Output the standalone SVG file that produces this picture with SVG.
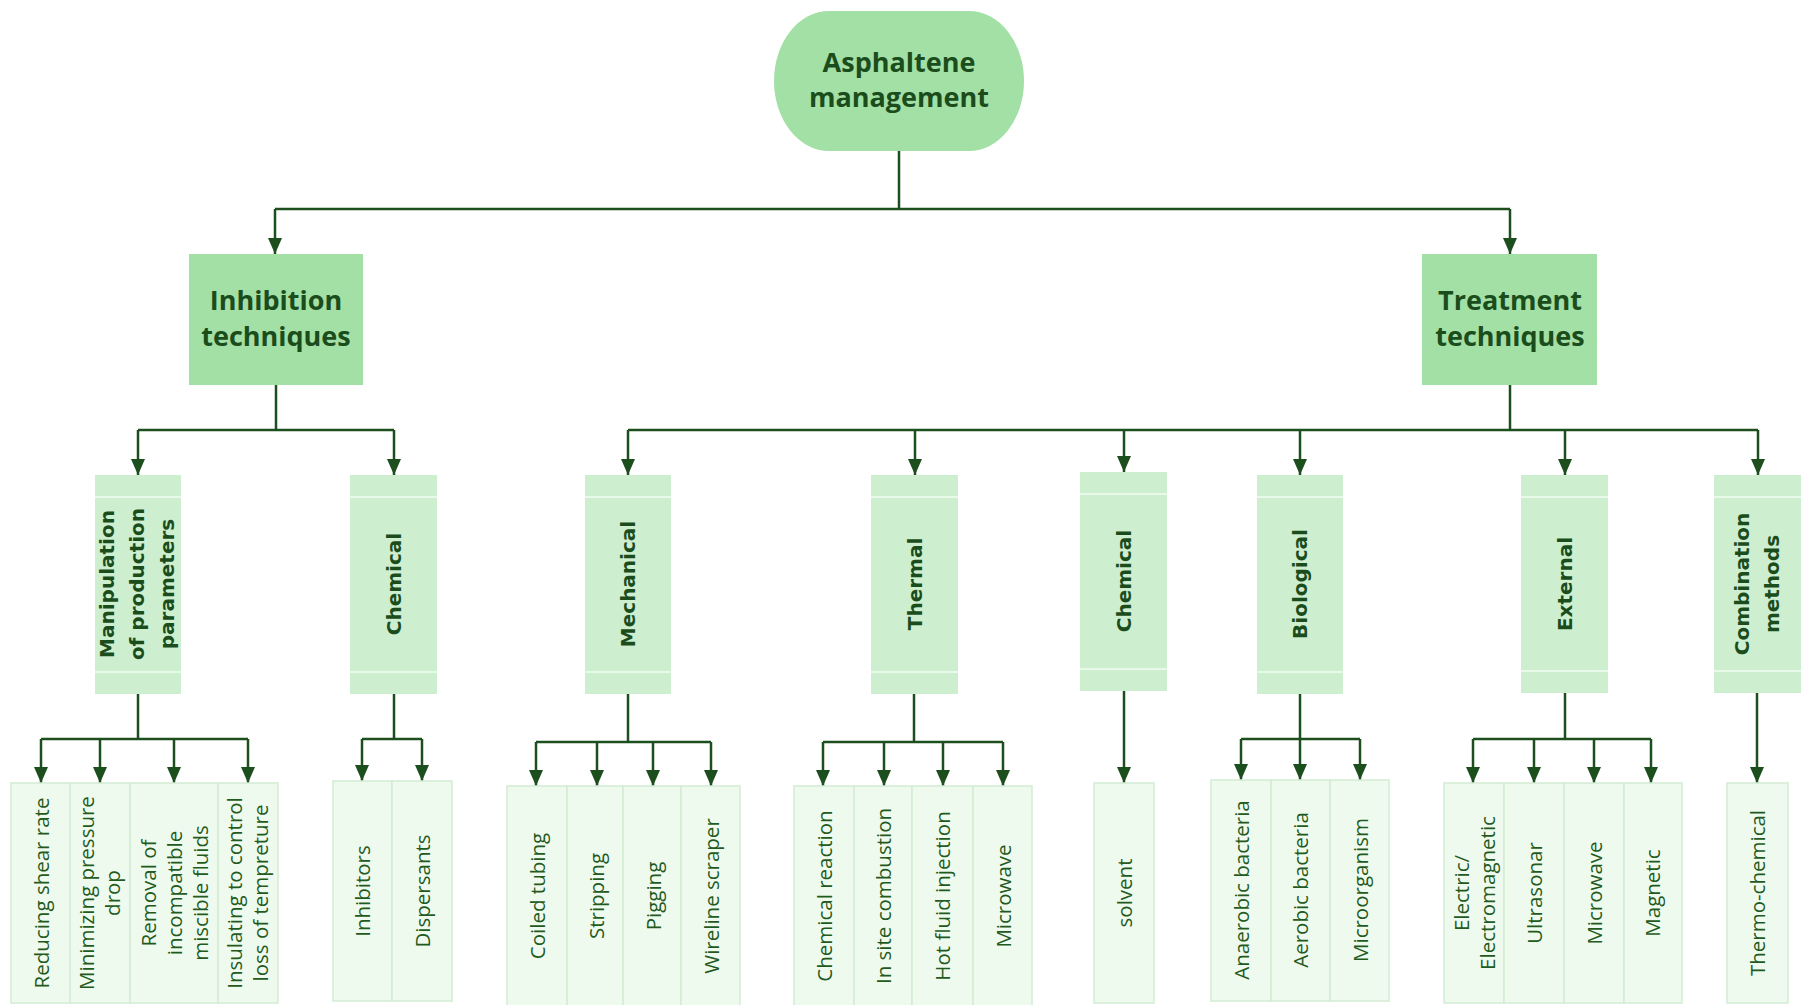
<svg xmlns="http://www.w3.org/2000/svg" width="1803" height="1005" viewBox="0 0 1803 1005">
<defs>
<marker id="ah" markerWidth="16" markerHeight="14" refX="16" refY="7" orient="auto" markerUnits="userSpaceOnUse" viewBox="0 0 16 14">
<path d="M0,0 L16,7 L0,14 Z" fill="#1d4f1e"/>
</marker>
<style>
.root{fill:#a3e0a5}
.l1{fill:#a3e0a5}
.l2{fill:#cdefd0}
.band{stroke:#e8f8e9;stroke-width:2}
.leaf{fill:#effaef;stroke:#d3ecd4;stroke-width:1.5}
.t0{font-family:"Open Sans","Noto Sans",sans-serif;font-weight:700;font-size:27px;fill:#1b4d1c;text-anchor:middle}
.t2{font-family:"DejaVu Sans",sans-serif;font-weight:700;font-size:20px;fill:#1b4d1c;text-anchor:middle;dominant-baseline:central}
.t3{font-family:"Open Sans","Noto Sans",sans-serif;font-size:20.5px;fill:#1f5a20;text-anchor:middle;dominant-baseline:central}
.c{fill:none;stroke:#1d4f1e;stroke-width:2.5}
.a{fill:none;stroke:#1d4f1e;stroke-width:2.5;marker-end:url(#ah)}
</style>
</defs>
<rect width="1803" height="1005" fill="#ffffff"/>

<g id="connectors">
<path class="c" d="M899,151 V209 M275,209 H1510"/>
<path class="a" d="M275,209 V254"/>
<path class="a" d="M1510,209 V254"/>
<path class="c" d="M276,385 V430 M138,430 H394"/>
<path class="a" d="M138,430 V475"/>
<path class="a" d="M394,430 V475"/>
<path class="c" d="M1510,385 V430 M628,430 H1758"/>
<path class="a" d="M628,430 V475"/>
<path class="a" d="M915,430 V475"/>
<path class="a" d="M1124,430 V472"/>
<path class="a" d="M1300,430 V475"/>
<path class="a" d="M1565,430 V475"/>
<path class="a" d="M1758,430 V475"/>
<path class="c" d="M138,694 V739 M41,739 H248"/>
<path class="a" d="M41,739 V783"/>
<path class="a" d="M100,739 V783"/>
<path class="a" d="M174,739 V783"/>
<path class="a" d="M248,739 V783"/>
<path class="c" d="M394,694 V739 M362,739 H422"/>
<path class="a" d="M362,739 V781"/>
<path class="a" d="M422,739 V781"/>
<path class="c" d="M628,694 V742 M536,742 H711"/>
<path class="a" d="M536,742 V786"/>
<path class="a" d="M597,742 V786"/>
<path class="a" d="M653,742 V786"/>
<path class="a" d="M711,742 V786"/>
<path class="c" d="M914,694 V742 M823,742 H1003"/>
<path class="a" d="M823,742 V786"/>
<path class="a" d="M884,742 V786"/>
<path class="a" d="M943,742 V786"/>
<path class="a" d="M1003,742 V786"/>
<path class="a" d="M1124,691 V783"/>
<path class="c" d="M1300,694 V739 M1241,739 H1360"/>
<path class="a" d="M1241,739 V780"/>
<path class="a" d="M1300,739 V780"/>
<path class="a" d="M1360,739 V780"/>
<path class="c" d="M1565,693 V739 M1473,739 H1651"/>
<path class="a" d="M1473,739 V783"/>
<path class="a" d="M1534,739 V783"/>
<path class="a" d="M1594,739 V783"/>
<path class="a" d="M1651,739 V783"/>
<path class="a" d="M1757,693 V783"/>
</g>

<g id="root">
<rect class="root" x="774" y="11" width="250" height="140" rx="55" ry="70"/>
<text class="t0" x="899" y="72">Asphaltene</text>
<text class="t0" x="899" y="107">management</text>
</g>

<g id="inhibition">
<rect class="l1" x="189" y="254" width="174" height="131"/>
<text class="t0" x="276" y="310">Inhibition</text>
<text class="t0" x="276" y="346">techniques</text>
</g>

<g id="treatment">
<rect class="l1" x="1422" y="254" width="175" height="131"/>
<text class="t0" x="1510" y="310">Treatment</text>
<text class="t0" x="1510" y="346">techniques</text>
</g>

<g id="manipulation">
<rect class="l2" x="95" y="475" width="86" height="219"/>
<path class="band" d="M95,497 H181 M95,672 H181"/>
<text class="t2" transform="rotate(-90 137 584)" x="137" y="584"><tspan x="137" dy="-30">Manipulation</tspan><tspan x="137" dy="30">of production</tspan><tspan x="137" dy="30">parameters</tspan></text>
</g>

<g id="chemical-inh">
<rect class="l2" x="350" y="475" width="87" height="219"/>
<path class="band" d="M350,497 H437 M350,672 H437"/>
<text class="t2" transform="rotate(-90 394 584)" x="394" y="584">Chemical</text>
</g>

<g id="mechanical">
<rect class="l2" x="585" y="475" width="86" height="219"/>
<path class="band" d="M585,497 H671 M585,672 H671"/>
<text class="t2" transform="rotate(-90 628 584)" x="628" y="584">Mechanical</text>
</g>

<g id="thermal">
<rect class="l2" x="871" y="475" width="87" height="219"/>
<path class="band" d="M871,497 H958 M871,672 H958"/>
<text class="t2" transform="rotate(-90 915 584)" x="915" y="584">Thermal</text>
</g>

<g id="chemical-tr">
<rect class="l2" x="1080" y="472" width="87" height="219"/>
<path class="band" d="M1080,494 H1167 M1080,669 H1167"/>
<text class="t2" transform="rotate(-90 1124 581)" x="1124" y="581">Chemical</text>
</g>

<g id="biological">
<rect class="l2" x="1257" y="475" width="86" height="219"/>
<path class="band" d="M1257,497 H1343 M1257,672 H1343"/>
<text class="t2" transform="rotate(-90 1300 584)" x="1300" y="584">Biological</text>
</g>

<g id="external">
<rect class="l2" x="1521" y="475" width="87" height="218"/>
<path class="band" d="M1521,497 H1608 M1521,671 H1608"/>
<text class="t2" transform="rotate(-90 1565 584)" x="1565" y="584">External</text>
</g>

<g id="combination">
<rect class="l2" x="1714" y="475" width="87" height="218"/>
<path class="band" d="M1714,497 H1801 M1714,671 H1801"/>
<text class="t2" transform="rotate(-90 1757 584)" x="1757" y="584"><tspan x="1757" dy="-15">Combination</tspan><tspan x="1757" dy="30">methods</tspan></text>
</g>

<g id="leaf-reducing">
<rect class="leaf" x="11" y="783" width="59" height="220"/>
<text class="t3" transform="rotate(-90 41 893)" x="41" y="893">Reducing shear rate</text>
</g>
<g id="leaf-minimizing">
<rect class="leaf" x="70" y="783" width="60" height="220"/>
<text class="t3" transform="rotate(-90 99 893)" x="99" y="893"><tspan x="99" dy="-13">Minimizing pressure</tspan><tspan x="99" dy="26">drop</tspan></text>
</g>
<g id="leaf-removal">
<rect class="leaf" x="130" y="783" width="88" height="220"/>
<text class="t3" transform="rotate(-90 174 893)" x="174" y="893"><tspan x="174" dy="-26">Removal of</tspan><tspan x="174" dy="26">incompatible</tspan><tspan x="174" dy="26">miscible fluids</tspan></text>
</g>
<g id="leaf-insulating">
<rect class="leaf" x="218" y="783" width="60" height="220"/>
<text class="t3" transform="rotate(-90 247 893)" x="247" y="893"><tspan x="247" dy="-13">Insulating to control</tspan><tspan x="247" dy="26">loss of tempreture</tspan></text>
</g>

<g id="leaf-inhibitors">
<rect class="leaf" x="333" y="781" width="59" height="220"/>
<text class="t3" transform="rotate(-90 362 891)" x="362" y="891">Inhibitors</text>
</g>
<g id="leaf-dispersants">
<rect class="leaf" x="392" y="781" width="60" height="220"/>
<text class="t3" transform="rotate(-90 422 891)" x="422" y="891">Dispersants</text>
</g>

<g id="leaf-coiled">
<rect class="leaf" x="507" y="786" width="60" height="220"/>
<text class="t3" transform="rotate(-90 537 896)" x="537" y="896">Coiled tubing</text>
</g>
<g id="leaf-stripping">
<rect class="leaf" x="567" y="786" width="56" height="220"/>
<text class="t3" transform="rotate(-90 596 896)" x="596" y="896">Stripping</text>
</g>
<g id="leaf-pigging">
<rect class="leaf" x="623" y="786" width="58" height="220"/>
<text class="t3" transform="rotate(-90 653 896)" x="653" y="896">Pigging</text>
</g>
<g id="leaf-wireline">
<rect class="leaf" x="681" y="786" width="59" height="220"/>
<text class="t3" transform="rotate(-90 711 896)" x="711" y="896">Wireline scraper</text>
</g>

<g id="leaf-chemreaction">
<rect class="leaf" x="794" y="786" width="60" height="220"/>
<text class="t3" transform="rotate(-90 824 896)" x="824" y="896">Chemical reaction</text>
</g>
<g id="leaf-insite">
<rect class="leaf" x="854" y="786" width="58" height="220"/>
<text class="t3" transform="rotate(-90 883 896)" x="883" y="896">In site combustion</text>
</g>
<g id="leaf-hotfluid">
<rect class="leaf" x="912" y="786" width="61" height="220"/>
<text class="t3" transform="rotate(-90 942 896)" x="942" y="896">Hot fluid injection</text>
</g>
<g id="leaf-microwave1">
<rect class="leaf" x="973" y="786" width="59" height="220"/>
<text class="t3" transform="rotate(-90 1003 896)" x="1003" y="896">Microwave</text>
</g>

<g id="leaf-solvent">
<rect class="leaf" x="1094" y="783" width="60" height="220"/>
<text class="t3" transform="rotate(-90 1124 893)" x="1124" y="893">solvent</text>
</g>

<g id="leaf-anaerobic">
<rect class="leaf" x="1211" y="780" width="60" height="221"/>
<text class="t3" transform="rotate(-90 1241 890)" x="1241" y="890">Anaerobic bacteria</text>
</g>
<g id="leaf-aerobic">
<rect class="leaf" x="1271" y="780" width="59" height="221"/>
<text class="t3" transform="rotate(-90 1300 890)" x="1300" y="890">Aerobic bacteria</text>
</g>
<g id="leaf-microorganism">
<rect class="leaf" x="1330" y="780" width="59" height="221"/>
<text class="t3" transform="rotate(-90 1360 890)" x="1360" y="890">Microorganism</text>
</g>

<g id="leaf-electric">
<rect class="leaf" x="1444" y="783" width="60" height="220"/>
<text class="t3" transform="rotate(-90 1474 893)" x="1474" y="893"><tspan x="1474" dy="-13">Electric/</tspan><tspan x="1474" dy="26">Electromagnetic</tspan></text>
</g>
<g id="leaf-ultrasonar">
<rect class="leaf" x="1504" y="783" width="60" height="220"/>
<text class="t3" transform="rotate(-90 1534 893)" x="1534" y="893">Ultrasonar</text>
</g>
<g id="leaf-microwave2">
<rect class="leaf" x="1564" y="783" width="60" height="220"/>
<text class="t3" transform="rotate(-90 1594 893)" x="1594" y="893">Microwave</text>
</g>
<g id="leaf-magnetic">
<rect class="leaf" x="1624" y="783" width="58" height="220"/>
<text class="t3" transform="rotate(-90 1652 893)" x="1652" y="893">Magnetic</text>
</g>

<g id="leaf-thermochemical">
<rect class="leaf" x="1727" y="783" width="61" height="220"/>
<text class="t3" transform="rotate(-90 1757 893)" x="1757" y="893">Thermo-chemical</text>
</g>
</svg>
